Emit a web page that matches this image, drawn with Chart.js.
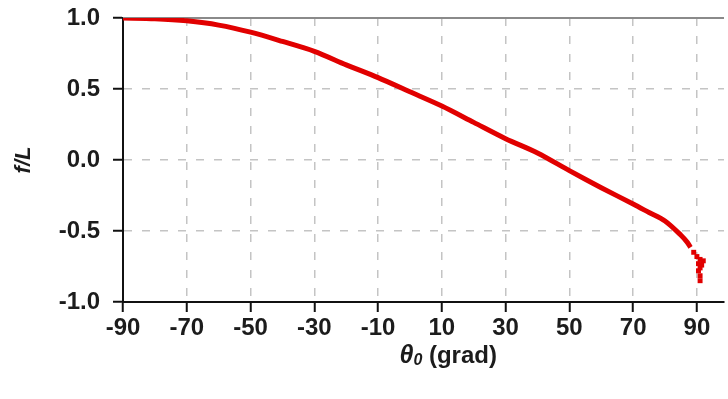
<!DOCTYPE html>
<html>
<head>
<meta charset="utf-8">
<script src="https://cdn.jsdelivr.net/npm/chart.js@4/dist/chart.umd.min.js"></script>
<style>
    html, body { margin: 0; padding: 0; background: #ffffff; }
    #wrap { width: 728px; height: 399px; }
</style>
</head>
<body>
<div id="wrap"><canvas id="chart-f"></canvas></div>
<script>
// f/L against theta0
const thetaDeg = [-90, -80, -70, -60, -50, -40, -30, -20, -10, 0, 10, 20, 30, 40, 50, 60, 70, 75, 80, 85, 87, 88];
const fOverL = [1.0, 0.995, 0.98, 0.95, 0.90, 0.835, 0.765, 0.67, 0.58, 0.48, 0.38, 0.265, 0.15, 0.05, -0.075, -0.195, -0.31, -0.37, -0.43, -0.53, -0.58, -0.615];

// loose points piled up near 90 grad
const tailTheta = [89, 90, 91, 92, 90.5, 91.5, 91, 90.5, 91, 91];
const tailF = [-0.65, -0.68, -0.70, -0.71, -0.73, -0.74, -0.76, -0.78, -0.815, -0.85];

const xTicks = [-90, -70, -50, -30, -10, 10, 30, 50, 70, 90];
const yTicks = [-1.0, -0.5, 0.0, 0.5, 1.0];

const RED = '#e10000';
const TEXT = '#1c1c1c';
const GRID = '#c4c4c4';
const tickFont = { family: 'Liberation Sans, Arial, sans-serif', size: 24, weight: 'bold' };

const mainPoints = thetaDeg.map((t, i) => ({ x: t, y: fOverL[i] }));
const tailPoints = tailTheta.map((t, i) => ({ x: t, y: tailF[i] }));

// solid grey frame line along the top of the plot
const topBorder = {
    id: 'topBorder',
    beforeDatasetsDraw(chart) {
        const { ctx, chartArea } = chart;
        ctx.save();
        ctx.strokeStyle = '#8a8a8a';
        ctx.lineWidth = 2;
        ctx.beginPath();
        ctx.moveTo(chartArea.left, chartArea.top);
        ctx.lineTo(chartArea.right, chartArea.top);
        ctx.stroke();
        ctx.restore();
    }
};

// x title with italic theta and subscript zero
const xTitle = {
    id: 'xTitle',
    afterDraw(chart) {
        const { ctx } = chart;
        const xs = chart.scales.x;
        const cx = xs.getPixelForValue(12);
        const y = 356;
        const fam = 'Liberation Sans, Arial, sans-serif';
        const parts = [
            { t: '\u03B8', f: 'italic bold 25px ' + fam, dy: 0 },
            { t: '0', f: 'italic bold 16px ' + fam, dy: 5 },
            { t: ' (grad)', f: 'bold 24px ' + fam, dy: 0 }
        ];
        ctx.save();
        ctx.fillStyle = TEXT;
        ctx.textBaseline = 'middle';
        let total = 0;
        parts.forEach(p => { ctx.font = p.f; p.w = ctx.measureText(p.t).width; total += p.w; });
        let x = cx - total / 2;
        parts.forEach(p => {
            ctx.font = p.f;
            ctx.fillText(p.t, x, y + p.dy);
            x += p.w;
        });
        ctx.restore();
    }
};

new Chart(document.getElementById('chart-f').getContext('2d'), {
    type: 'scatter',
    data: {
        datasets: [{
            data: mainPoints,
            showLine: true,
            borderColor: RED,
            backgroundColor: RED,
            borderWidth: 5,
            pointRadius: 0,
            tension: 0.3
        }, {
            data: tailPoints,
            showLine: false,
            pointStyle: 'rect',
            pointRadius: 3.5,
            borderWidth: 0,
            backgroundColor: RED
        }]
    },
    options: {
        responsive: true,
        maintainAspectRatio: false,
        animation: false,
        layout: { padding: { top: 18, right: 0, left: 0, bottom: 0 } },
        plugins: {
            legend: { display: false },
            tooltip: { enabled: false }
        },
        scales: {
            x: {
                type: 'linear',
                min: -90,
                max: 98.5,
                afterBuildTicks: scale => { scale.ticks = xTicks.map(v => ({ value: v })); },
                afterFit: scale => { scale.height = 97; scale.paddingLeft = 0; scale.paddingRight = 0; },
                border: { display: true, color: '#111111', width: 2, dash: [8, 10] },
                grid: { color: GRID, lineWidth: 1.5, tickColor: '#111111', tickWidth: 2, tickLength: 10, tickBorderDash: [] },
                ticks: { color: TEXT, font: tickFont, padding: 2, maxRotation: 0, autoSkip: false }
            },
            y: {
                type: 'linear',
                min: -1,
                max: 1,
                afterBuildTicks: scale => { scale.ticks = yTicks.map(v => ({ value: v })); },
                afterFit: scale => { scale.width = 123; scale.paddingTop = 0; scale.paddingBottom = 0; },
                border: { display: true, color: '#111111', width: 2, dash: [8, 10] },
                grid: { color: GRID, lineWidth: 1.5, tickColor: '#111111', tickWidth: 2, tickLength: 10, tickBorderDash: [] },
                ticks: {
                    color: TEXT, font: tickFont, padding: 13,
                    callback: v => Number(v).toFixed(1)
                },
                title: {
                    display: true,
                    text: 'f/L',
                    color: TEXT,
                    font: { family: 'Liberation Sans, Arial, sans-serif', size: 22, weight: 'bold', style: 'italic' },
                    padding: { top: 11, bottom: 0 }
                }
            }
        }
    },
    plugins: [topBorder, xTitle]
});
</script>
</body>
</html>
